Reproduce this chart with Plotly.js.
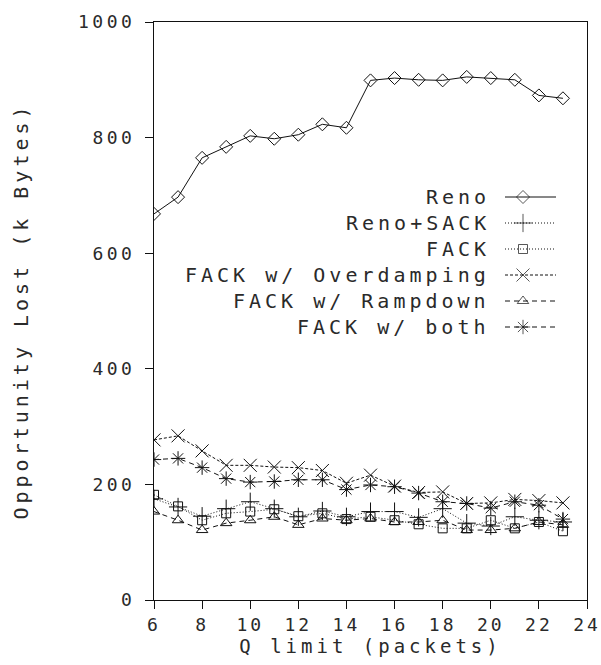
<!DOCTYPE html>
<html><head><meta charset="utf-8">
<script src="https://cdn.plot.ly/plotly-3.0.1.min.js"></script>
<style>
html,body{margin:0;padding:0;background:#fff;}
#chart{width:601px;height:665px;}
.xtick text{letter-spacing:3px;}
.ytick text{letter-spacing:3.5px;}
.annotation-text{letter-spacing:4px;}
.g-xtitle text{letter-spacing:4px;}
.g-ytitle text{letter-spacing:4px;}
</style>
</head><body>
<div id="chart"></div>
<script>
const qLimit = [6,7,8,9,10,11,12,13,14,15,16,17,18,19,20,21,22,23];
const seriesNames = ["Reno","Reno+SACK","FACK","FACK w/ Overdamping","FACK w/ Rampdown","FACK w/ both"];
const reno      = [668,697,765,784,803,798,805,823,817,899,903,900,899,905,903,900,873,868];
const renoSack  = [175,161,145,158,170,158,144,154,144,153,153,143,158,133,128,144,138,135];
const fack      = [182,162,138,150,153,157,145,150,140,144,138,131,124,124,138,124,135,119];
const overdamp  = [277,284,258,233,233,230,229,224,202,216,197,186,187,167,168,174,172,168];
const rampdown  = [153,138,121,133,138,144,130,141,138,141,135,135,138,121,121,124,135,130];
const both      = [243,245,229,210,204,205,208,208,191,199,196,185,170,167,159,170,164,140];
const xTicks = [6,8,10,12,14,16,18,20,22,24];
const yTicks = [0,200,400,600,800,1000];

const values = [reno, renoSack, fack, overdamp, rampdown, both];
const styles = [
  {symbol:"diamond-open", size:10, dash:"solid"},
  {symbol:"cross-thin-open", size:13, dash:"1px,2px"},
  {symbol:"square-open", size:9, dash:"1px,2px"},
  {symbol:"x-thin-open", size:13, dash:"3px,2px"},
  {symbol:"triangle-up-open", size:10, dash:"5px,4px"},
  {symbol:"asterisk-open", size:12, dash:"5px,4px"}
];
const ink = "#111";
const textInk = "#2a2a2a";
const font = "DejaVu Sans Mono, monospace";

const traces = [];
values.forEach((v,i)=>{
  traces.push({
    x: qLimit, y: v, type:"scatter", mode:"lines+markers", name: seriesNames[i],
    line:{color:ink, width:1, dash:styles[i].dash},
    marker:{symbol:styles[i].symbol, size:styles[i].size, color:ink, line:{color:ink, width:1}},
    showlegend:false, hoverinfo:"skip"
  });
});

// custom legend: text right-aligned, sample on the right
const L = 154, W = 433, T = 22, H = 578;
const px = p => (p - L) / W;
const py = p => (T + H - p) / H;
const legTextX = px(492), legLine0 = px(505), legLine1 = px(556), legMark = px(523);
const legY0 = 197, legStep = 26;
const annotations = [];
seriesNames.forEach((n,i)=>{
  const yy = py(legY0 + i*legStep);
  annotations.push({xref:"paper", yref:"paper", x:legTextX, y:yy, xanchor:"right", yanchor:"middle",
    text:n, showarrow:false, font:{family:font, size:20, color:textInk}});
  traces.push({
    x:[legLine0, legMark, legLine1], y:[yy,yy,yy], xaxis:"x2", yaxis:"y2",
    type:"scatter", mode:"lines+markers",
    line:{color:ink, width:1, dash:styles[i].dash},
    marker:{symbol:styles[i].symbol, size:[0,styles[i].size,0], color:ink, line:{color:ink, width:1}},
    showlegend:false, hoverinfo:"skip"
  });
});

const layout = {
  width:601, height:665,
  margin:{l:L, r:601-L-W, t:T, b:665-T-H},
  paper_bgcolor:"#fff", plot_bgcolor:"#fff",
  showlegend:false,
  font:{family:font, color:textInk},
  xaxis:{range:[6,24], tickvals:xTicks, ticktext:xTicks.map(String), ticks:"outside", ticklen:8, tickcolor:ink,
    showline:true, linecolor:ink, linewidth:1, mirror:true, showgrid:false, zeroline:false,
    ticklabeloverflow:"allow",
    tickfont:{family:font, size:18, color:textInk},
    title:{text:"Q limit (packets)", font:{family:font, size:19, color:textInk}, standoff:2}},
  yaxis:{range:[0,1000], tickvals:yTicks, ticktext:yTicks.map(String), ticks:"outside", ticklen:8, tickcolor:ink,
    showline:true, linecolor:ink, linewidth:1, mirror:true, showgrid:false, zeroline:false,
    ticklabelstandoff:6, ticklabeloverflow:"allow",
    tickfont:{family:font, size:18, color:textInk},
    title:{text:"Opportunity Lost (k Bytes)", font:{family:font, size:20, color:textInk}, standoff:44}},
  xaxis2:{overlaying:"x", range:[0,1], visible:false, fixedrange:true},
  yaxis2:{overlaying:"y", range:[0,1], visible:false, fixedrange:true, anchor:"x2"},
  annotations:annotations
};
Plotly.newPlot("chart", traces, layout, {displayModeBar:false, staticPlot:true});
</script>
</body></html>
